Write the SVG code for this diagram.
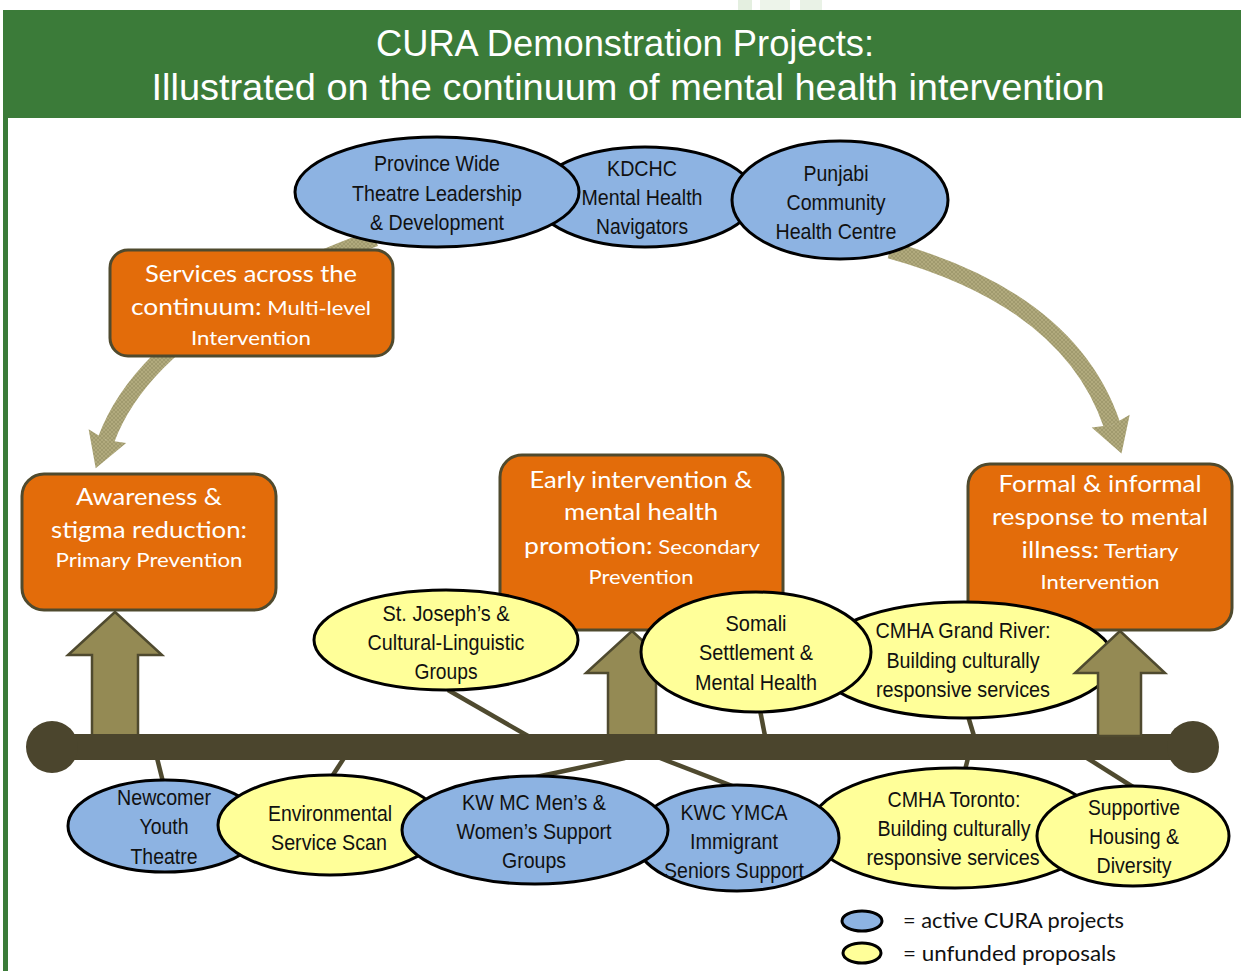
<svg xmlns="http://www.w3.org/2000/svg" width="1241" height="971" viewBox="0 0 1241 971">
  <style>
    .hdr { font-family: "Liberation Sans Narrow", "Liberation Sans", Arial, sans-serif; font-size: 36px; fill: #ffffff; text-anchor: middle; }
    .box { fill: #E36C0A; stroke: #4F4A2E; stroke-width: 3; }
    .bt  { font-family: "Lato", "Open Sans", "Liberation Sans", sans-serif; fill: #ffffff; text-anchor: middle; font-size: 24px; }
    .bs  { font-size: 20px; }
    .blue { fill: #8DB3E2; stroke: #000000; stroke-width: 3; }
    .yel  { fill: #FFFF99; stroke: #000000; stroke-width: 3; }
    .et  { font-family: "Liberation Sans Narrow", "Liberation Sans", Arial, sans-serif; font-size: 22px; fill: #111111; text-anchor: middle; }
    .stalk { stroke: #4F4A2F; stroke-width: 4.5; fill: none; }
    .up { fill: #948A54; stroke: #4F4A2F; stroke-width: 2.5; stroke-linejoin: miter; }
    .curve { fill: none; stroke: url(#hatch); stroke-width: 17; }
    .curvehead { fill: url(#hatch); }
    .leg { font-family: "Lato", "Open Sans", "Liberation Sans", sans-serif; font-size: 21px; fill: #111111; }
  </style>
  <defs>
    <pattern id="hatch" patternUnits="userSpaceOnUse" width="4" height="4">
      <rect width="4" height="4" fill="#B1AA7D"/>
      <path d="M0 4 L4 0 M0 0 L4 4" stroke="#9A9367" stroke-width="0.7"/>
    </pattern>
  </defs>

  <rect width="1241" height="971" fill="#ffffff"/>

  <!-- faint logo marks above the banner -->
  <rect x="738" y="0" width="14" height="10" fill="#E4EFE0"/>
  <rect x="760" y="0" width="30" height="10" fill="#EDF4EA"/>
  <rect x="800" y="0" width="22" height="10" fill="#E9F2E6"/>

  <!-- title banner -->
  <g id="header">
    <rect x="3" y="10" width="1238" height="108" fill="#3B7B39"/>
    <rect x="3" y="118" width="5" height="853" fill="#3B7B39"/>
    <text class="hdr" x="625" y="56" textLength="498" lengthAdjust="spacingAndGlyphs">CURA Demonstration Projects:</text>
    <text class="hdr" x="628" y="100" textLength="953" lengthAdjust="spacingAndGlyphs">Illustrated on the continuum of mental health intervention</text>
  </g>

  <!-- curved arrows and stalk lines -->
  <g id="connectors">
    <path class="curve" d="M375 238 Q150 320 106 440"/>
    <polygon class="curvehead" points="95.7,468.2 126.2,443.1 106,440 88.6,429.3"/>
    <path class="curve" d="M890 250 Q1070 300 1112 425"/>
    <polygon class="curvehead" points="1121.5,453.4 1129.7,414.8 1112,425 1091.7,427.6"/>

    <line class="stalk" x1="448" y1="690" x2="528" y2="736"/>
    <line class="stalk" x1="760" y1="710" x2="765" y2="736"/>
    <line class="stalk" x1="968" y1="716" x2="974" y2="736"/>

    <line class="stalk" x1="157" y1="758" x2="163" y2="782"/>
    <line class="stalk" x1="344" y1="758" x2="331" y2="778"/>
    <line class="stalk" x1="625" y1="758" x2="536" y2="777"/>
    <line class="stalk" x1="660" y1="758" x2="735" y2="787"/>
    <line class="stalk" x1="968" y1="758" x2="965" y2="770"/>
    <line class="stalk" x1="1087" y1="758" x2="1133" y2="787"/>
  </g>

  <!-- block arrows rising from the continuum -->
  <g id="up-primary">
    <polygon class="up" points="115,612 162,655 138,655 138,736 92,736 92,655 68,655"/>
  </g>
  <g id="up-secondary">
    <polygon class="up" points="632,631 678,673 656,673 656,736 608,736 608,673 586,673"/>
  </g>

  <!-- continuum bar -->
  <g id="timeline">
    <rect x="52" y="734" width="1141" height="26" fill="#4B452D"/>
    <circle cx="52" cy="747" r="26" fill="#4B452D"/>
    <circle cx="1193" cy="747" r="26" fill="#4B452D"/>
  </g>

  <!-- orange stage boxes -->
  <g id="box-multilevel">
    <rect class="box" x="110" y="250" width="283" height="106" rx="18"/>
    <text class="bt" x="251" y="282" textLength="212" lengthAdjust="spacingAndGlyphs">Services across the</text>
    <text class="bt" x="251" y="315" textLength="240" lengthAdjust="spacingAndGlyphs">continuum:<tspan class="bs"> Multi-level</tspan></text>
    <text class="bt bs" x="251" y="345" textLength="120" lengthAdjust="spacingAndGlyphs">Intervention</text>
  </g>
  <g id="box-primary">
    <rect class="box" x="22" y="474" width="254" height="136" rx="22"/>
    <text class="bt" x="149" y="505" textLength="146" lengthAdjust="spacingAndGlyphs">Awareness &amp;</text>
    <text class="bt" x="149" y="538" textLength="196" lengthAdjust="spacingAndGlyphs">stigma reduction:</text>
    <text class="bt bs" x="149" y="567" textLength="187" lengthAdjust="spacingAndGlyphs">Primary Prevention</text>
  </g>
  <g id="box-secondary">
    <rect class="box" x="500" y="455" width="283" height="175" rx="22"/>
    <text class="bt" x="641" y="488" textLength="223" lengthAdjust="spacingAndGlyphs">Early intervention &amp;</text>
    <text class="bt" x="641" y="520" textLength="154" lengthAdjust="spacingAndGlyphs">mental health</text>
    <text class="bt" x="642" y="554" textLength="236" lengthAdjust="spacingAndGlyphs">promotion:<tspan class="bs"> Secondary</tspan></text>
    <text class="bt bs" x="641" y="584" textLength="105" lengthAdjust="spacingAndGlyphs">Prevention</text>
  </g>
  <g id="box-tertiary">
    <rect class="box" x="968" y="464" width="264" height="166" rx="22"/>
    <text class="bt" x="1100" y="492" textLength="203" lengthAdjust="spacingAndGlyphs">Formal &amp; informal</text>
    <text class="bt" x="1100" y="525" textLength="216" lengthAdjust="spacingAndGlyphs">response to mental</text>
    <text class="bt" x="1100" y="558" textLength="157" lengthAdjust="spacingAndGlyphs">illness:<tspan class="bs"> Tertiary</tspan></text>
    <text class="bt bs" x="1100" y="589" textLength="119" lengthAdjust="spacingAndGlyphs">Intervention</text>
  </g>

  <!-- projects along the top arc -->
  <g id="kdchc">
    <ellipse class="blue" cx="645" cy="197" rx="110" ry="50"/>
    <text class="et" x="642" y="176" textLength="70" lengthAdjust="spacingAndGlyphs">KDCHC</text>
    <text class="et" x="642" y="205" textLength="121" lengthAdjust="spacingAndGlyphs">Mental Health</text>
    <text class="et" x="642" y="234" textLength="92" lengthAdjust="spacingAndGlyphs">Navigators</text>
  </g>
  <g id="province-wide">
    <ellipse class="blue" cx="437" cy="192" rx="142" ry="55"/>
    <text class="et" x="437" y="171" textLength="126" lengthAdjust="spacingAndGlyphs">Province Wide</text>
    <text class="et" x="437" y="201" textLength="170" lengthAdjust="spacingAndGlyphs">Theatre Leadership</text>
    <text class="et" x="437" y="230" textLength="134" lengthAdjust="spacingAndGlyphs">&amp; Development</text>
  </g>
  <g id="punjabi">
    <ellipse class="blue" cx="840" cy="200" rx="108" ry="59"/>
    <text class="et" x="836" y="181" textLength="65" lengthAdjust="spacingAndGlyphs">Punjabi</text>
    <text class="et" x="836" y="210" textLength="99" lengthAdjust="spacingAndGlyphs">Community</text>
    <text class="et" x="836" y="239" textLength="121" lengthAdjust="spacingAndGlyphs">Health Centre</text>
  </g>

  <!-- projects above the continuum -->
  <g id="st-josephs">
    <ellipse class="yel" cx="446" cy="640" rx="132" ry="50"/>
    <text class="et" x="446" y="621" textLength="127" lengthAdjust="spacingAndGlyphs">St. Joseph’s &amp;</text>
    <text class="et" x="446" y="650" textLength="157" lengthAdjust="spacingAndGlyphs">Cultural-Linguistic</text>
    <text class="et" x="446" y="679" textLength="63" lengthAdjust="spacingAndGlyphs">Groups</text>
  </g>
  <g id="cmha-grand-river">
    <ellipse class="yel" cx="964" cy="660" rx="150" ry="58"/>
    <text class="et" x="963" y="638" textLength="175" lengthAdjust="spacingAndGlyphs">CMHA Grand River:</text>
    <text class="et" x="963" y="668" textLength="153" lengthAdjust="spacingAndGlyphs">Building culturally</text>
    <text class="et" x="963" y="697" textLength="174" lengthAdjust="spacingAndGlyphs">responsive services</text>
  </g>
  <g id="somali">
    <ellipse class="yel" cx="756" cy="652" rx="115" ry="60"/>
    <text class="et" x="756" y="631" textLength="61" lengthAdjust="spacingAndGlyphs">Somali</text>
    <text class="et" x="756" y="660" textLength="114" lengthAdjust="spacingAndGlyphs">Settlement &amp;</text>
    <text class="et" x="756" y="690" textLength="122" lengthAdjust="spacingAndGlyphs">Mental Health</text>
  </g>

  <g id="up-tertiary">
    <polygon class="up" points="1120,631 1165,673 1141,673 1141,736 1098,736 1098,673 1075,673"/>
  </g>

  <!-- projects below the continuum -->
  <g id="newcomer">
    <ellipse class="blue" cx="165" cy="826" rx="97" ry="46"/>
    <text class="et" x="164" y="805" textLength="94" lengthAdjust="spacingAndGlyphs">Newcomer</text>
    <text class="et" x="164" y="834" textLength="49" lengthAdjust="spacingAndGlyphs">Youth</text>
    <text class="et" x="164" y="864" textLength="67" lengthAdjust="spacingAndGlyphs">Theatre</text>
  </g>
  <g id="environmental">
    <ellipse class="yel" cx="330" cy="825" rx="112" ry="50"/>
    <text class="et" x="330" y="821" textLength="124" lengthAdjust="spacingAndGlyphs">Environmental</text>
    <text class="et" x="329" y="850" textLength="116" lengthAdjust="spacingAndGlyphs">Service Scan</text>
  </g>
  <g id="cmha-toronto">
    <ellipse class="yel" cx="955" cy="828" rx="145" ry="60"/>
    <text class="et" x="954" y="807" textLength="133" lengthAdjust="spacingAndGlyphs">CMHA Toronto:</text>
    <text class="et" x="954" y="836" textLength="153" lengthAdjust="spacingAndGlyphs">Building culturally</text>
    <text class="et" x="953" y="865" textLength="173" lengthAdjust="spacingAndGlyphs">responsive services</text>
  </g>
  <g id="supportive-housing">
    <ellipse class="yel" cx="1133" cy="836" rx="96" ry="50"/>
    <text class="et" x="1134" y="815" textLength="92" lengthAdjust="spacingAndGlyphs">Supportive</text>
    <text class="et" x="1134" y="844" textLength="90" lengthAdjust="spacingAndGlyphs">Housing &amp;</text>
    <text class="et" x="1134" y="873" textLength="75" lengthAdjust="spacingAndGlyphs">Diversity</text>
  </g>
  <g id="kwc-ymca">
    <ellipse class="blue" cx="737" cy="838" rx="102" ry="53"/>
    <text class="et" x="734" y="820" textLength="107" lengthAdjust="spacingAndGlyphs">KWC YMCA</text>
    <text class="et" x="734" y="849" textLength="88" lengthAdjust="spacingAndGlyphs">Immigrant</text>
    <text class="et" x="734" y="878" textLength="140" lengthAdjust="spacingAndGlyphs">Seniors Support</text>
  </g>
  <g id="kw-mc">
    <ellipse class="blue" cx="535" cy="830" rx="133" ry="54"/>
    <text class="et" x="534" y="810" textLength="144" lengthAdjust="spacingAndGlyphs">KW MC Men’s &amp;</text>
    <text class="et" x="534" y="839" textLength="155" lengthAdjust="spacingAndGlyphs">Women’s Support</text>
    <text class="et" x="534" y="868" textLength="64" lengthAdjust="spacingAndGlyphs">Groups</text>
  </g>

  <!-- key -->
  <g id="legend">
    <ellipse class="blue" cx="862" cy="921" rx="20" ry="10"/>
    <text class="leg" x="903" y="928" textLength="221" lengthAdjust="spacingAndGlyphs">= active CURA projects</text>
    <ellipse class="yel" cx="862" cy="953" rx="19" ry="10"/>
    <text class="leg" x="903" y="961" textLength="213" lengthAdjust="spacingAndGlyphs">= unfunded proposals</text>
  </g>
</svg>
